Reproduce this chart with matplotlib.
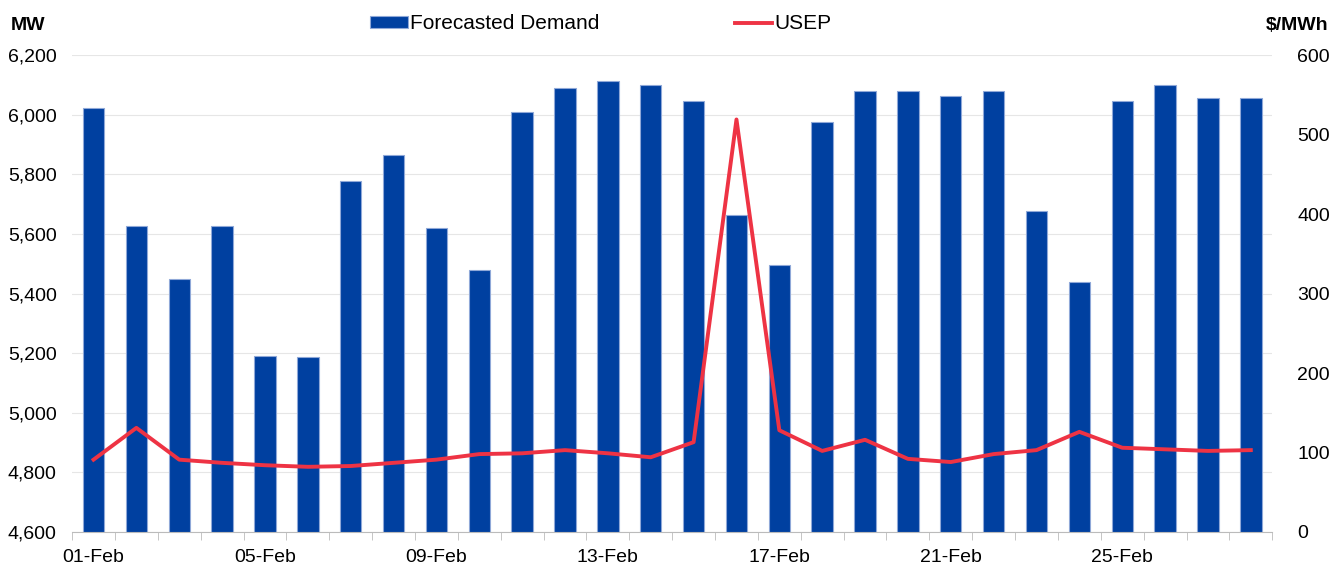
import numpy as np
import matplotlib.pyplot as plt
from matplotlib.ticker import FuncFormatter

plt.rcParams['font.family'] = ['Liberation Sans', 'DejaVu Sans']

days = [f"{d:02d}-Feb" for d in range(1, 29)]
demand = [6022, 5626, 5449, 5626, 5190, 5187, 5777, 5865, 5620, 5479,
          6009, 6089, 6113, 6099, 6046, 5663, 5496, 5975, 6079, 6079,
          6063, 6079, 5677, 5439, 6046, 6099, 6056, 6056]
usep = [91, 131, 91, 87, 84, 82, 83, 87, 91, 98,
        99, 103, 99, 94, 113, 519, 128, 102, 116, 92,
        88, 98, 103, 126, 106, 104, 102, 103]

x = np.arange(len(days))

fig = plt.figure(figsize=(13.35, 5.68), dpi=100)
ax = fig.add_axes([0.054, 0.0634, 0.899, 0.8396])
ax2 = ax.twinx()

ax.bar(x, demand, width=0.5, color='#0040A0', edgecolor='#8FA8D8', linewidth=0.8,
       label='Forecasted Demand', zorder=2)
ax2.plot(x, usep, color='#EE3344', linewidth=2.8, label='USEP', zorder=3)

ax.set_xlim(-0.5, len(days) - 0.5)
ax.set_ylim(4600, 6200)
ax.set_yticks(range(4600, 6201, 200))
ax.yaxis.set_major_formatter(FuncFormatter(lambda v, p: f"{int(v):,}"))
ax2.set_ylim(0, 600)
ax2.set_yticks(range(0, 601, 100))

ax.grid(axis='y', color='#E6E6E6', linewidth=0.8, zorder=0)
ax.set_axisbelow(True)

ax.set_xticks(x[::4])
ax.set_xticklabels(days[::4])
ax.set_xticks(np.arange(-0.5, len(days), 1), minor=True)
ax.tick_params(axis='x', which='major', length=0, labelsize=14, pad=12)
ax.tick_params(axis='x', which='minor', length=6, color='#BBBBBB')
ax.tick_params(axis='y', length=0, labelsize=14, pad=11)
ax2.tick_params(axis='y', length=0, labelsize=14, pad=18)

for a in (ax, ax2):
    for s in ['top', 'left', 'right']:
        a.spines[s].set_visible(False)
ax.spines['bottom'].set_color('#BBBBBB')
ax2.spines['bottom'].set_visible(False)

fig.text(0.008, 0.955, 'MW', fontsize=14, fontweight='bold', va='center')
fig.text(0.995, 0.955, '$/MWh', fontsize=14, fontweight='bold', va='center', ha='right')

h1, l1 = ax.get_legend_handles_labels()
h2, l2 = ax2.get_legend_handles_labels()
fig.legend(h1 + h2, l1 + l2, loc='center', bbox_to_anchor=(0.450, 0.958), ncol=2,
           frameon=False, fontsize=15, columnspacing=6.5, handlelength=1.8,
           handleheight=0.55, handletextpad=0.1)

fig.savefig('out.png', dpi=100)
